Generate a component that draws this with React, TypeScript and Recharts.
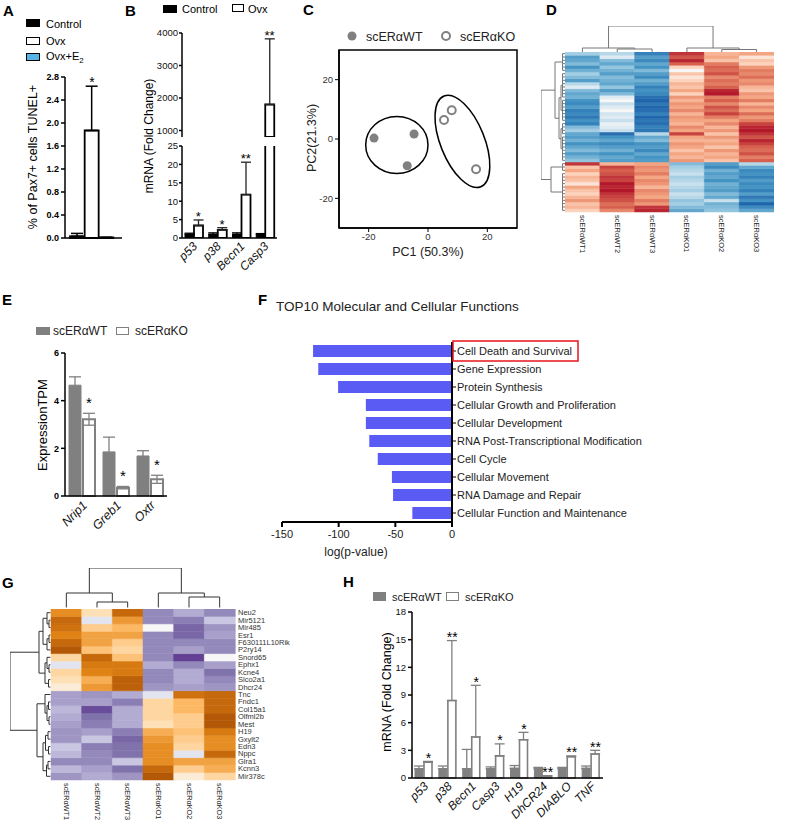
import React from "react";
import {
  BarChart,
  Bar,
  ComposedChart,
  Line,
  ScatterChart,
  Scatter,
  XAxis,
  YAxis,
  ErrorBar,
  Cell,
  ReferenceArea,
} from "recharts";

const FONT = "'Liberation Sans', Arial, Helvetica, sans-serif";
const GRAY = "#808080";
const AXIS = { stroke: "#000", strokeWidth: 1.5 };

// ---------- A: TUNEL+
const A_GROUPS = ["Control", "Ovx", "Ovx+E2"];
const A_VALUES = [0.03, 1.87, 0.01];
const A_ERRORS = [0.05, 0.77, 0.0];
const A_STARS = ["", "*", ""];
const A_FILLS = ["#000000", "#ffffff", "#55b4e6"];
const A_TICKS = [0, 0.4, 0.8, 1.2, 1.6, 2.0, 2.4, 2.8];

// ---------- B: mRNA, broken axis
const B_GENES = ["p53", "p38", "Becn1", "Casp3"];
const B_CONTROL = [1, 1, 1, 1];
const B_CONTROL_ERR = [0.3, 0.4, 0.4, 0.2];
const B_OVX = [3.4, 2.2, 11.8, 1800];
const B_OVX_ERR = [1.5, 0.6, 8.8, 2020];
const B_STARS = ["*", "*", "**", "**"];
const B_UPPER_TICKS = [1000, 2000, 3000, 4000];
const B_LOWER_TICKS = [0, 5, 10, 15, 20, 25];
const B_LOWER_MAX = 25;
const B_UPPER_MIN = 800;

// ---------- C: PCA
const C_WT_PC1 = [-18.2, -4.7, -7.0];
const C_WT_PC2 = [0.3, 1.7, -9.0];
const C_KO_PC1 = [5.4, 8.0, 16.2];
const C_KO_PC2 = [6.4, 9.7, -10.2];
const C_ELLIPSE_CX = [-10.5, 11.6];
const C_ELLIPSE_CY = [-2.0, -0.8];
const C_ELLIPSE_RX = [10.5, 16.5];
const C_ELLIPSE_RY = [9.6, 7.4];
const C_ELLIPSE_ANGLE = [0, 68];
const C_TICKS = [-20, 0, 20];

// ---------- D: heatmap (z-scores per column, top row first)
const D_SAMPLES = ["scERαWT1", "scERαWT2", "scERαWT3", "scERαKO1", "scERαKO2", "scERαKO3"];
const D_WT1 = [-0.4, -0.9, -0.8, -0.6, -1.0, -0.7, -0.4, -0.6, -0.9, -0.3, -0.1, -0.6, -0.8, -0.7, -1.0, -1.1, -0.9, -1.2, -1.1, -1.3, -1.0, -1.2, -0.6, -0.4, -0.8, -0.9, -0.7, -1.0, -0.8, -0.6, -0.9, -0.7, -0.5,
  1.3, 0.3, 0.5, 0.2, 0.4, 0.3, 0.1, 0.5, 0.3, 0.2, 0.4, 0.6, 0.3, 0.4, 0.2];
const D_WT2 = [-0.3, -0.1, -0.6, -0.8, -0.5, -0.7, -0.9, -0.6, -0.7, -0.8, -0.5, -0.9, -0.6, -0.1, 0.0, -0.2, -0.1, 0.0, -0.15, -0.1, -0.2, -0.05, -0.1, -0.2, -1.4, -1.0, -0.8, -1.1, -0.9, -0.7, -1.0, -0.8, -0.9,
  0.4, 1.2, 1.0, 1.1, 1.3, 1.2, 1.5, 1.4, 1.5, 1.3, 1.2, 1.1, 0.9, 1.0, 0.7];
const D_WT3 = [-1.2, -0.9, -1.1, -0.8, -1.0, -0.6, -0.9, -1.1, -0.7, -0.9, -1.2, -1.0, -1.1, -1.4, -1.5, -1.3, -1.5, -1.4, -1.2, -1.5, -1.3, -1.4, -1.2, -1.3, -0.3, -0.8, -0.6, -1.0, -0.9, -1.1, -0.8, -1.0, -0.9,
  0.5, 0.7, 0.6, 0.8, 0.5, 0.7, 0.6, 0.4, 0.7, 0.6, 0.5, 0.8, 0.6, 1.3, 1.4];
const D_KO1 = [1.3, 1.1, 1.4, 1.0, 0.2, 0.0, 0.3, 0.1, 0.2, 0.4, 0.3, 0.5, 0.2, 0.6, 0.4, 0.6, 0.5, 0.7, 0.4, 0.6, 0.5, 0.4, 0.7, 0.5, 1.2, 0.5, 0.4, 0.6, 0.5, 0.3, 0.5, 0.4, 0.6,
  -0.6, -0.4, -0.3, -0.2, -0.4, -0.3, -0.2, -0.3, -0.4, -0.2, -0.3, -0.5, -0.4, -0.6, -0.8];
const D_KO2 = [0.4, 0.5, 0.3, 0.8, 1.0, 0.9, 1.1, 0.7, 0.9, 0.8, 1.0, 1.4, 1.5, 0.8, 1.0, 0.7, 1.1, 0.9, 1.2, 0.8, 0.5, 0.7, 0.4, 0.6, 0.3, 0.6, 0.4, 0.5, 0.3, 0.6, 0.4, 0.5, 0.3,
  -0.9, -1.1, -0.7, -0.9, -0.8, -1.0, -0.7, -0.8, -0.9, -0.6, -0.8, -0.2, -0.7, -0.6, -0.5];
const D_KO3 = [0.5, 0.1, 0.3, 0.2, 0.6, 0.8, 0.7, 0.9, 0.6, 0.7, 0.4, 0.3, 0.6, 0.5, 0.8, 0.4, 0.7, 0.5, 0.9, 0.6, 0.8, 1.2, 1.4, 1.5, 1.3, 1.1, 1.4, 1.2, 1.0, 0.9, 1.1, 0.8, 1.0,
  -0.3, -0.8, -1.1, -1.0, -1.2, -0.9, -1.1, -1.0, -1.2, -0.9, -1.3, -1.0, -1.5, -1.1, -0.8];
const D_MATRIX = [D_WT1, D_WT2, D_WT3, D_KO1, D_KO2, D_KO3];
const D_COL_TREE = [[0, [1, 2, 3], 4], [3, [4, 5, 2.5], 4], 26];
const D_ROW_TREE = [
  [
    { from: 0, to: 5, h: 2.5 },
    [
      [{ from: 6, to: 13, h: 2.5 }, { from: 14, to: 20, h: 2.5 }, 4],
      [{ from: 21, to: 24, h: 2.5 }, { from: 25, to: 32, h: 2.5 }, 4],
      6,
    ],
    10,
  ],
  [{ from: 33, to: 35, h: 2.5 }, { from: 36, to: 47, h: 2.5 }, 14],
  24,
];
const D_SCALE_TICKS = [1.5, 1, 0.5, 0, -0.5, -1, -1.5];
const RDBU = [
  [-1.5, "#2166ac"], [-1.0, "#4393c3"], [-0.5, "#92c5de"], [-0.15, "#d1e5f0"], [0, "#f7f7f7"],
  [0.15, "#fddbc7"], [0.5, "#f4a582"], [1.0, "#d6604d"], [1.5, "#b2182b"],
];

// ---------- E: expression TPM
const E_GENES = ["Nrip1", "Greb1", "Oxtr"];
const E_WT = [4.65, 1.85, 1.68];
const E_WT_ERR = [0.35, 0.62, 0.22];
const E_KO = [3.22, 0.35, 0.7];
const E_KO_ERR = [0.25, 0.05, 0.17];
const E_STARS = ["*", "*", "*"];
const E_TICKS = [0, 2, 4, 6];

// ---------- F: top 10 functions
const F_FUNCTIONS = [
  "Cell Death and Survival",
  "Gene Expression",
  "Protein Synthesis",
  "Cellular Growth and Proliferation",
  "Cellular Development",
  "RNA Post-Transcriptional Modification",
  "Cell Cycle",
  "Cellular Movement",
  "RNA Damage and Repair",
  "Cellular Function and Maintenance",
];
const F_LOGP = [-122.6, -118, -100.5, -76, -76, -73, -65.5, -53, -52, -35];
const F_TICKS = [-150, -100, -50, 0];
const F_HIGHLIGHT = "Cell Death and Survival";

// ---------- G: heatmap of selected genes
const G_GENES = ["Neu2", "Mir5121", "Mir485", "Esr1", "F630111L10Rik", "P2ry14", "Snord65", "Ephx1", "Kcne4", "Slco2a1", "Dhcr24",
  "Tnc", "Fndc1", "Col15a1", "Olfml2b", "Mest", "H19", "Gxylt2", "Edn3", "Nppc", "Glra1", "Kcnn3", "Mir378c"];
const G_WT1 = [1.0, 1.4, 1.3, 1.1, 1.4, 1.6, 0.3, -0.1, 0.3, 0.2, 0.1, -0.6, -0.6, -0.4, -0.5, -0.6, -0.7, -0.7, -0.3, -0.4, -0.8, -0.4, -0.7];
const G_WT2 = [0.2, -0.1, 0.4, 0.8, 0.8, 0.5, 1.4, 1.2, 1.1, 0.7, 0.9, -0.7, -0.6, -1.3, -1.0, -0.9, -0.6, -0.3, -0.9, -0.8, -0.8, -0.6, -0.5];
const G_WT3 = [1.4, 0.9, 0.6, 0.8, 0.4, 0.3, 0.5, 1.2, 1.2, 1.5, 1.5, -0.5, -0.9, -0.5, -0.5, -0.5, -0.9, -1.1, -1.0, -1.0, -0.3, -1.0, -0.7];
const G_KO1 = [-0.8, -0.8, 0.0, -0.8, -0.8, -0.8, -0.8, -0.5, -0.8, -0.8, -0.7, -0.1, 0.3, 0.3, 0.3, 0.2, 0.7, 0.9, 1.0, 1.0, 1.0, 1.4, 1.7];
const G_KO2 = [-0.5, -0.9, -1.1, -1.1, -0.8, -0.6, -1.4, -0.8, -0.5, -0.5, -0.6, 1.3, 0.6, 0.6, 0.4, 0.4, 0.5, 0.4, 0.3, -0.1, 0.8, 0.4, 0.1];
const G_KO3 = [-0.8, -0.3, -0.7, -0.6, -0.8, -0.8, 0.0, -0.6, -1.0, -0.8, -0.7, 1.4, 1.4, 1.4, 1.6, 1.6, 1.2, 1.0, 1.0, 1.4, 0.8, 0.7, 0.3];
const G_MATRIX = [G_WT1, G_WT2, G_WT3, G_KO1, G_KO2, G_KO3];
const G_COL_TREE = [[0, [1, 2, 7], 16], [3, [4, 5, 12], 16], 41];
const G_ROW_TREE = [
  [
    [[0, [1, 2, 2], 4], [[3, 4, 2], 5, 4], 8],
    [[6, [7, 8, 2], 4], [9, 10, 2.5], 6],
    12,
  ],
  [
    [11, [[12, 13, 2.5], [14, 15, 2], 4], 6],
    [[[16, 17, 3], [18, 19, 2.5], 5.5], [[20, 21, 3], 22, 4.5], 8],
    14,
  ],
  41,
];
const G_SCALE_TICKS = [1.5, 1, 0.5, 0, -0.5, -1, -1.5];
const PUOR = [
  [-1.6, "#542788"], [-1.0, "#8073ac"], [-0.5, "#b2abd2"], [-0.15, "#d8daeb"], [0, "#f7f7f7"],
  [0.2, "#fee0b6"], [0.6, "#fdb863"], [1.1, "#e08214"], [1.6, "#b35806"],
];

// ---------- H: mRNA fold change
const H_GENES = ["p53", "p38", "Becn1", "Casp3", "H19", "DhCR24", "DIABLO", "TNF"];
const H_WT = [1, 1, 1, 1, 1.05, 1, 1, 1.05];
const H_WT_ERR = [0.3, 0.3, 2.1, 0.2, 0.3, 0.15, 0.15, 0.25];
const H_KO = [1.7, 8.4, 4.45, 2.4, 4.15, 0.2, 2.3, 2.6];
const H_KO_ERR = [0.1, 6.5, 5.6, 1.3, 0.8, 0.05, 0.1, 0.4];
const H_STARS = ["*", "**", "*", "*", "*", "**", "**", "**"];
const H_TICKS = [0, 3, 6, 9, 12, 15, 18];

// ---------- helpers
function hex(c: string) {
  return [1, 3, 5].map((i) => parseInt(c.slice(i, i + 2), 16));
}
function colorAt(stops: any[], v: number) {
  if (v <= stops[0][0]) return stops[0][1];
  for (let i = 1; i < stops.length; i++) {
    const [v1, c1] = stops[i];
    if (v <= v1) {
      const [v0, c0] = stops[i - 1];
      const t = (v - v0) / (v1 - v0);
      const a = hex(c0);
      const b = hex(c1);
      const m = a.map((x, k) => Math.round(x + (b[k] - x) * t));
      return `rgb(${m[0]},${m[1]},${m[2]})`;
    }
  }
  return stops[stops.length - 1][1];
}

// dendrogram tree -> segments [pos1, h1, pos2, h2]
function layoutTree(t: any, leafH: number, segs: number[][]): number[] {
  if (typeof t === "number") return [t + 0.5, leafH];
  if (!Array.isArray(t)) {
    for (let i = t.from; i <= t.to; i++) segs.push([i + 0.5, leafH, i + 0.5, t.h]);
    segs.push([t.from + 0.5, t.h, t.to + 0.5, t.h]);
    return [(t.from + t.to + 1) / 2, t.h];
  }
  const [a, b, h] = t;
  const [pa, ha] = layoutTree(a, leafH, segs);
  const [pb, hb] = layoutTree(b, leafH, segs);
  segs.push([pa, ha, pa, h], [pb, hb, pb, h], [pa, h, pb, h]);
  return [(pa + pb) / 2, h];
}

function Txt({ x, y, size, children, bold, italic, anchor = "start", color = "#000" }: any) {
  const tx = anchor === "middle" ? "-50%" : anchor === "end" ? "-100%" : "0";
  return (
    <div
      style={{
        position: "absolute",
        left: x,
        top: y,
        fontSize: size,
        fontWeight: bold ? 700 : 400,
        fontStyle: italic ? "italic" : "normal",
        transform: `translate(${tx}, -50%)`,
        whiteSpace: "nowrap",
        lineHeight: 1,
        color,
      }}
    >
      {children}
    </div>
  );
}

function VTxt({ x, y, size, children, color = "#000" }: any) {
  return (
    <div
      style={{
        position: "absolute",
        left: x,
        top: y,
        fontSize: size,
        transform: "translate(-50%, -50%) rotate(-90deg)",
        whiteSpace: "nowrap",
        lineHeight: 1,
        color,
      }}
    >
      {children}
    </div>
  );
}

function Swatch({ x, y, w, h, fill, stroke }: any) {
  return (
    <div
      style={{
        position: "absolute",
        left: x,
        top: y,
        width: w,
        height: h,
        background: fill,
        border: `1.5px solid ${stroke}`,
        boxSizing: "border-box",
      }}
    />
  );
}

function Place({ x, y, children }: any) {
  return <div style={{ position: "absolute", left: x, top: y }}>{children}</div>;
}

const starLabel = (stars: string[], dx: number, dy: number, size: number) => (p: any) => {
  const s = stars[p.index];
  if (!s || p.value == null || p.y == null || Number.isNaN(p.y)) return null;
  return (
    <text key={`st${p.index}`} x={p.x + dx} y={p.y + dy} textAnchor="middle" fontSize={size} style={{ fill: "#000" }}>
      {s}
    </text>
  );
};

function SlantTick(p: any) {
  const { x, y, payload, size, dx = 4, dy = 9 } = p;
  const ax = x + dx;
  const ay = y + dy;
  return (
    <text x={ax} y={ay} transform={`rotate(-45, ${ax}, ${ay})`} textAnchor="end" fontSize={size} fontStyle="italic" fill="#111">
      {payload.value}
    </text>
  );
}

function VertTick(p: any) {
  const { x, y, payload, size } = p;
  return (
    <text x={x} y={y + 3} transform={`rotate(90, ${x}, ${y + 3})`} fontSize={size} fill="#222" dominantBaseline="central">
      {payload.value}
    </text>
  );
}

function RowTick(p: any) {
  const { x, y, payload, labels, n } = p;
  const idx = Math.round(n - 0.5 - payload.value);
  return (
    <text x={x} y={y} fontSize={7.5} fill="#333" dominantBaseline="central">
      {labels[idx]}
    </text>
  );
}

function FTick(p: any) {
  const { x, y, payload } = p;
  const hi = payload.value === F_HIGHLIGHT;
  return (
    <g>
      <text x={x - 1} y={y} fontSize={11} fill="#222" dominantBaseline="central">
        {payload.value}
      </text>
      {hi && <rect x={x - 5} y={y - 10} width={125} height={20} fill="none" stroke="#e8141b" strokeWidth={1.5} />}
    </g>
  );
}

function Heatmap({ columns, matrix, stops, width, height, margin, xHeight, labelSize, rowLabels, yWidth }: any) {
  const nRows = matrix[0].length;
  const data = columns.map((name: string) => {
    const d: any = { name };
    for (let r = 0; r < nRows; r++) d[`r${r}`] = 1;
    return d;
  });
  const order = matrix[0].map((_: number, k: number) => nRows - 1 - k);
  return (
    <BarChart width={width} height={height} data={data} margin={margin} barCategoryGap={0} barGap={0}>
      <XAxis
        dataKey="name"
        height={xHeight}
        tickLine={false}
        axisLine={false}
        tickSize={0}
        tickMargin={0}
        interval={0}
        tick={(p: any) => <VertTick {...p} size={labelSize} />}
      />
      {rowLabels ? (
        <YAxis
          type="number"
          orientation="right"
          domain={[0, nRows]}
          width={yWidth}
          ticks={rowLabels.map((_: string, i: number) => nRows - i - 0.5)}
          interval={0}
          axisLine={false}
          tickLine={false}
          tickSize={0}
          tickMargin={3}
          tick={(p: any) => <RowTick {...p} labels={rowLabels} n={nRows} />}
        />
      ) : (
        <YAxis type="number" domain={[0, nRows]} hide />
      )}
      {order.map((r: number) => (
        <Bar key={r} dataKey={`r${r}`} stackId="h" isAnimationActive={false}>
          {columns.map((c: string, ci: number) => {
            const f = colorAt(stops, matrix[ci][r]);
            return <Cell key={c} fill={f} stroke={f} strokeWidth={0.5} />;
          })}
        </Bar>
      ))}
    </BarChart>
  );
}

const noDot = () => <g />;

function Dendrogram({ tree, leaves, maxH, orient, width, height, margin, color, leafH }: any) {
  const segs: number[][] = [];
  layoutTree(tree, leafH, segs);
  const top = orient === "top";
  return (
    <ScatterChart width={width} height={height} margin={margin}>
      <XAxis type="number" dataKey="x" hide domain={top ? [0, leaves] : [0, maxH]} reversed={!top} allowDataOverflow />
      <YAxis type="number" dataKey="y" hide domain={top ? [0, maxH] : [0, leaves]} reversed={!top} allowDataOverflow />
      {segs.map((s, i) => (
        <Scatter
          key={i}
          data={top ? [{ x: s[0], y: s[1] }, { x: s[2], y: s[3] }] : [{ x: s[1], y: s[0] }, { x: s[3], y: s[2] }]}
          line={{ stroke: color, strokeWidth: 1 }}
          shape={noDot}
          isAnimationActive={false}
        />
      ))}
    </ScatterChart>
  );
}

function ColorBar({ id, stops, domain, ticks, width, height, barW, fontSize, tickLine }: any) {
  const [lo, hi] = domain;
  return (
    <ComposedChart width={width} height={height} margin={{ top: 0, right: 0, bottom: 0, left: 0 }}>
      <defs>
        <linearGradient id={id} x1="0" y1="1" x2="0" y2="0">
          {stops.map(([v, c]: any) => (
            <stop key={v} offset={(v - lo) / (hi - lo)} stopColor={c} />
          ))}
        </linearGradient>
      </defs>
      <XAxis type="number" dataKey="x" domain={[0, 1]} hide />
      <YAxis
        type="number"
        orientation="right"
        domain={domain}
        ticks={ticks}
        interval={0}
        width={width - barW}
        axisLine={false}
        tickLine={tickLine ? { stroke: "#999", strokeWidth: 0.5 } : false}
        tickSize={tickLine ? 2 : 0}
        tickMargin={tickLine ? 1 : 5}
        tick={{ fontSize, fill: "#333" }}
      />
      <ReferenceArea x1={0} x2={1} y1={lo} y2={hi} fill={`url(#${id})`} fillOpacity={1} stroke="none" ifOverflow="visible" />
    </ComposedChart>
  );
}

// ---------- panels
function PanelA() {
  const data = A_GROUPS.map((name, i) => ({
    name,
    value: A_VALUES[i],
    err: [0, A_ERRORS[i]],
    starAt: A_VALUES[i] + A_ERRORS[i],
  }));
  return (
    <>
      <Txt x={3} y={10} size={15} bold>A</Txt>
      <Swatch x={26} y={19} w={14} h={8} fill={A_FILLS[0]} stroke="#000" />
      <Txt x={46} y={24} size={11}>Control</Txt>
      <Swatch x={26} y={37} w={14} h={8} fill={A_FILLS[1]} stroke="#000" />
      <Txt x={46} y={41} size={11}>Ovx</Txt>
      <Swatch x={26} y={53} w={14} h={8} fill={A_FILLS[2]} stroke="#000" />
      <Txt x={46} y={58} size={11}>
        Ovx+E<sub style={{ fontSize: 8 }}>2</sub>
      </Txt>
      <VTxt x={33} y={157} size={12.5}>% of Pax7+ cells TUNEL+</VTxt>
      <Place x={0} y={0}>
        <ComposedChart width={130} height={260} data={data} margin={{ top: 77, right: 8, left: 0, bottom: 0 }}>
          <XAxis dataKey="name" tick={false} tickLine={false} height={22} axisLine={AXIS} padding={{ left: 5, right: 8 }} />
          <YAxis
            width={65}
            domain={[0, 2.8]}
            ticks={A_TICKS}
            interval={0}
            tickFormatter={(v: number) => v.toFixed(1)}
            tick={{ fontSize: 9, fontWeight: 700, fill: "#000" }}
            tickSize={4}
            axisLine={AXIS}
            tickLine={AXIS}
          />
          <Bar dataKey="value" barSize={14} stroke="#000" strokeWidth={1.8} isAnimationActive={false}>
            {A_GROUPS.map((g, i) => (
              <Cell key={g} fill={A_FILLS[i]} />
            ))}
            <ErrorBar dataKey="err" width={6} stroke="#000" strokeWidth={1.5} direction="y" />
          </Bar>
          <Line dataKey="starAt" stroke="none" dot={false} activeDot={false} isAnimationActive={false} label={starLabel(A_STARS, 0, 1, 14)} />
        </ComposedChart>
      </Place>
    </>
  );
}

function PanelB() {
  const lower = B_GENES.map((name, i) => ({
    name,
    ctrl: B_CONTROL[i],
    ctrlErr: [0, B_CONTROL_ERR[i]],
    ovx: B_OVX[i],
    ovxErr: [0, B_OVX_ERR[i]],
    starAt: B_OVX[i] + B_OVX_ERR[i] < B_LOWER_MAX ? B_OVX[i] + B_OVX_ERR[i] : null,
  }));
  const upper = B_GENES.map((name, i) => ({
    name,
    ctrl: null,
    ovx: B_OVX[i] > B_UPPER_MIN ? B_OVX[i] : null,
    ovxErr: [0, B_OVX_ERR[i]],
    starAt: B_OVX[i] > B_UPPER_MIN ? B_OVX[i] + B_OVX_ERR[i] : null,
  }));
  const yCommon = {
    width: 62,
    interval: 0 as const,
    allowDataOverflow: true,
    tick: { fontSize: 9.5, fill: "#111" },
    tickSize: 3,
    tickMargin: 1,
    axisLine: AXIS,
    tickLine: AXIS,
  };
  return (
    <>
      <Txt x={125} y={10} size={15} bold>B</Txt>
      <Swatch x={163} y={5} w={14} h={8} fill="#000" stroke="#000" />
      <Txt x={182} y={9} size={11}>Control</Txt>
      <Swatch x={232} y={4} w={12} h={8} fill="#fff" stroke="#000" />
      <Txt x={248} y={9} size={11}>Ovx</Txt>
      <VTxt x={149} y={136} size={12}>mRNA (Fold Change)</VTxt>
      <Place x={120} y={0}>
        <ComposedChart width={165} height={137} data={upper} margin={{ top: 33, right: 8, left: 0, bottom: 0 }} barGap={0}>
          <XAxis dataKey="name" hide />
          <YAxis domain={[B_UPPER_MIN, 4000]} ticks={B_UPPER_TICKS} {...yCommon} />
          <Bar dataKey="ctrl" barSize={9} fill="#000" isAnimationActive={false} />
          <Bar dataKey="ovx" barSize={9} fill="#fff" stroke="#000" strokeWidth={1.8} isAnimationActive={false}>
            <ErrorBar dataKey="ovxErr" width={5} stroke="#222" strokeWidth={1.3} direction="y" />
          </Bar>
          <Line dataKey="starAt" stroke="none" dot={false} activeDot={false} isAnimationActive={false} label={starLabel(B_STARS, 4.5, 1, 13)} />
        </ComposedChart>
      </Place>
      <Place x={120} y={140}>
        <ComposedChart width={165} height={150} data={lower} margin={{ top: 6, right: 8, left: 0, bottom: 0 }} barGap={0}>
          <XAxis
            dataKey="name"
            height={52}
            tickLine={false}
            tickSize={0}
            tickMargin={0}
            interval={0}
            axisLine={AXIS}
            tick={(p: any) => <SlantTick {...p} size={12} />}
          />
          <YAxis domain={[0, B_LOWER_MAX]} ticks={B_LOWER_TICKS} {...yCommon} />
          <Bar dataKey="ctrl" barSize={9} fill="#000" stroke="#000" isAnimationActive={false}>
            <ErrorBar dataKey="ctrlErr" width={5} stroke="#000" strokeWidth={1.3} direction="y" />
          </Bar>
          <Bar dataKey="ovx" barSize={9} fill="#fff" stroke="#000" strokeWidth={1.8} isAnimationActive={false}>
            <ErrorBar dataKey="ovxErr" width={5} stroke="#222" strokeWidth={1.3} direction="y" />
          </Bar>
          <Line dataKey="starAt" stroke="none" dot={false} activeDot={false} isAnimationActive={false} label={starLabel(B_STARS, 4.5, 1, 13)} />
        </ComposedChart>
      </Place>
    </>
  );
}

function PanelC() {
  const PX = 178 / 60;
  const wt = C_WT_PC1.map((x, i) => ({ x, y: C_WT_PC2[i] }));
  const ko = C_KO_PC1.map((x, i) => ({ x, y: C_KO_PC2[i] }));
  const ell = C_ELLIPSE_CX.map((x, i) => ({ x, y: C_ELLIPSE_CY[i], rx: C_ELLIPSE_RX[i], ry: C_ELLIPSE_RY[i], a: C_ELLIPSE_ANGLE[i] }));
  const axisTick = { fontSize: 9.5, fill: "#333" };
  return (
    <>
      <Txt x={303} y={9} size={15} bold>C</Txt>
      <svg style={{ position: "absolute", left: 345, top: 29 }} width={110} height={14}>
        <circle cx={7} cy={7} r={4.5} fill={GRAY} />
        <circle cx={101} cy={7} r={4} fill="#fff" stroke={GRAY} strokeWidth={2} />
      </svg>
      <Txt x={366} y={37} size={12.5} color="#222">scERαWT</Txt>
      <Txt x={460} y={37} size={12.5} color="#222">scERαKO</Txt>
      <VTxt x={312} y={138} size={12.5} color="#222">PC2(21.3%)</VTxt>
      <Txt x={428} y={252} size={12.5} anchor="middle" color="#222">PC1 (50.3%)</Txt>
      <Place x={300} y={0}>
        <ScatterChart width={225} height={270} margin={{ top: 50, right: 8, left: 0, bottom: 0 }}>
          <XAxis type="number" dataKey="x" domain={[-30, 30]} ticks={C_TICKS} interval={0} height={42} tickSize={4} tickMargin={1} axisLine={AXIS} tickLine={{ stroke: "#000" }} tick={axisTick} />
          <YAxis type="number" dataKey="y" domain={[-30, 30]} ticks={C_TICKS} interval={0} width={39} tickSize={4} axisLine={AXIS} tickLine={{ stroke: "#000" }} tick={axisTick} />
          <ReferenceArea x1={-30} x2={30} y1={-30} y2={30} fill="none" stroke="#000" strokeWidth={1.5} ifOverflow="visible" />
          <Scatter
            data={ell}
            isAnimationActive={false}
            shape={(p: any) => (
              <ellipse
                cx={p.cx}
                cy={p.cy}
                rx={p.payload.rx * PX}
                ry={p.payload.ry * PX}
                transform={`rotate(${p.payload.a} ${p.cx} ${p.cy})`}
                fill="none"
                stroke="#000"
                strokeWidth={1.5}
              />
            )}
          />
          <Scatter data={wt} isAnimationActive={false} shape={(p: any) => <circle cx={p.cx} cy={p.cy} r={4.5} fill={GRAY} />} />
          <Scatter data={ko} isAnimationActive={false} shape={(p: any) => <circle cx={p.cx} cy={p.cy} r={4} fill="#fff" stroke={GRAY} strokeWidth={2} />} />
        </ScatterChart>
      </Place>
    </>
  );
}

function PanelD() {
  return (
    <>
      <Txt x={546} y={9} size={15} bold>D</Txt>
      <Place x={565} y={24}>
        <Dendrogram tree={D_COL_TREE} leaves={6} maxH={26} orient="top" width={209} height={28} margin={{ top: 2, right: 0, left: 0, bottom: 0 }} color="#777" leafH={0} />
      </Place>
      <Place x={538} y={52}>
        <Dendrogram tree={D_ROW_TREE} leaves={48} maxH={24} orient="left" width={27} height={160} margin={{ top: 0, right: 0, left: 3, bottom: 0 }} color="#777" leafH={0} />
      </Place>
      <Place x={565} y={52}>
        <Heatmap columns={D_SAMPLES} matrix={D_MATRIX} stops={RDBU} width={209} height={205} margin={{ top: 0, right: 0, left: 0, bottom: 0 }} xHeight={45} labelSize={7.5} />
      </Place>
      <Place x={782} y={52}>
        <ColorBar id="rdbu" stops={RDBU} domain={[-1.7, 1.75]} ticks={D_SCALE_TICKS} width={18} height={70} barW={5} fontSize={6} tickLine />
      </Place>
    </>
  );
}

function PanelE() {
  const data = E_GENES.map((name, i) => ({
    name,
    wt: E_WT[i],
    wtErr: E_WT_ERR[i],
    ko: E_KO[i],
    koErr: E_KO_ERR[i],
    starAt: E_KO[i] + E_KO_ERR[i],
  }));
  return (
    <>
      <Txt x={2} y={299} size={15} bold>E</Txt>
      <Swatch x={36} y={327} w={14} h={8} fill={GRAY} stroke={GRAY} />
      <Txt x={53} y={331} size={12} color="#222">scERαWT</Txt>
      <Swatch x={116} y={327} w={13} h={8} fill="#fff" stroke={GRAY} />
      <Txt x={135} y={331} size={12} color="#222">scERαKO</Txt>
      <VTxt x={42} y={425} size={13}>ExpressionTPM</VTxt>
      <Place x={0} y={300}>
        <ComposedChart width={175} height={260} data={data} margin={{ top: 53, right: 8, left: 0, bottom: 0 }} barGap={2}>
          <XAxis
            dataKey="name"
            height={64}
            tickLine={false}
            tickSize={0}
            tickMargin={0}
            interval={0}
            axisLine={AXIS}
            tick={(p: any) => <SlantTick {...p} size={12.5} dx={6} dy={10} />}
          />
          <YAxis
            width={65}
            domain={[0, 6]}
            ticks={E_TICKS}
            interval={0}
            tick={{ fontSize: 9, fontWeight: 700, fill: "#000" }}
            tickSize={4}
            axisLine={AXIS}
            tickLine={AXIS}
          />
          <Bar dataKey="wt" barSize={12} fill={GRAY} stroke={GRAY} isAnimationActive={false}>
            <ErrorBar dataKey="wtErr" width={6} stroke={GRAY} strokeWidth={1.3} direction="y" />
          </Bar>
          <Bar dataKey="ko" barSize={12} fill="#fff" stroke={GRAY} strokeWidth={2} isAnimationActive={false}>
            <ErrorBar dataKey="koErr" width={6} stroke={GRAY} strokeWidth={1.3} direction="y" />
          </Bar>
          <Line dataKey="starAt" stroke="none" dot={false} activeDot={false} isAnimationActive={false} label={starLabel(E_STARS, 7, -5, 15)} />
        </ComposedChart>
      </Place>
    </>
  );
}

function PanelF() {
  const data = F_FUNCTIONS.map((name, i) => ({ name, v: F_LOGP[i] }));
  return (
    <>
      <Txt x={258} y={299} size={15} bold>F</Txt>
      <Txt x={276} y={307} size={13.5} color="#222">TOP10 Molecular and Cellular Functions</Txt>
      <Txt x={356} y={552} size={12} anchor="middle" color="#222">log(p-value)</Txt>
      <Place x={240} y={295}>
        <BarChart layout="vertical" width={420} height={270} data={data} margin={{ top: 47, right: 8, left: 42, bottom: 0 }} barCategoryGap={3}>
          <XAxis
            type="number"
            domain={[-150, 0]}
            ticks={F_TICKS}
            interval={0}
            height={43}
            tickSize={5}
            tickMargin={3}
            axisLine={{ stroke: "#000", strokeWidth: 2 }}
            tickLine={{ stroke: "#000", strokeWidth: 2 }}
            tick={{ fontSize: 11, fill: "#222" }}
          />
          <YAxis
            type="category"
            dataKey="name"
            orientation="right"
            width={200}
            interval={0}
            tickSize={4}
            axisLine={{ stroke: "#000", strokeWidth: 2 }}
            tickLine={{ stroke: "#000", strokeWidth: 1 }}
            tick={(p: any) => <FTick {...p} />}
          />
          <Bar dataKey="v" fill="#5a5af5" isAnimationActive={false} />
        </BarChart>
      </Place>
    </>
  );
}

function PanelG() {
  return (
    <>
      <Txt x={2} y={582} size={15} bold>G</Txt>
      <Place x={51} y={566}>
        <Dendrogram tree={G_COL_TREE} leaves={6} maxH={41} orient="top" width={184} height={43} margin={{ top: 2, right: 0, left: 0, bottom: 0 }} color="#333" leafH={1.5} />
      </Place>
      <Place x={8} y={609}>
        <Dendrogram tree={G_ROW_TREE} leaves={23} maxH={41} orient="left" width={43} height={171} margin={{ top: 0, right: 0, left: 2, bottom: 0 }} color="#333" leafH={0.5} />
      </Place>
      <Place x={0} y={609}>
        <Heatmap
          columns={D_SAMPLES}
          matrix={G_MATRIX}
          stops={PUOR}
          width={300}
          height={219}
          margin={{ top: 0, right: 6, left: 51, bottom: 0 }}
          xHeight={48}
          labelSize={7.3}
          rowLabels={G_GENES}
          yWidth={59}
        />
      </Place>
      <Place x={293} y={610}>
        <ColorBar id="puor" stops={PUOR} domain={[-1.78, 1.78]} ticks={G_SCALE_TICKS} width={34} height={115} barW={10} fontSize={8} />
      </Place>
    </>
  );
}

function PanelH() {
  const data = H_GENES.map((name, i) => ({
    name,
    wt: H_WT[i],
    wtErr: [0, H_WT_ERR[i]],
    ko: H_KO[i],
    koErr: [0, H_KO_ERR[i]],
    starAt: H_KO[i] + H_KO_ERR[i],
  }));
  return (
    <>
      <Txt x={343} y={581} size={15} bold>H</Txt>
      <Swatch x={373} y={592} w={13} h={9} fill={GRAY} stroke={GRAY} />
      <Txt x={392} y={597} size={11} color="#222">scERαWT</Txt>
      <Swatch x={446} y={592} w={13} h={9} fill="#fff" stroke={GRAY} />
      <Txt x={465} y={597} size={11} color="#222">scERαKO</Txt>
      <VTxt x={387} y={692} size={12.5}>mRNA (Fold Change)</VTxt>
      <Place x={350} y={600}>
        <ComposedChart width={260} height={228} data={data} margin={{ top: 12, right: 7, left: 0, bottom: 0 }} barGap={1}>
          <XAxis
            dataKey="name"
            height={50}
            tickLine={false}
            tickSize={0}
            tickMargin={0}
            interval={0}
            axisLine={AXIS}
            tick={(p: any) => <SlantTick {...p} size={12} dx={5} dy={9} />}
          />
          <YAxis
            width={62}
            domain={[0, 18]}
            ticks={H_TICKS}
            interval={0}
            tick={{ fontSize: 9.5, fill: "#111" }}
            tickSize={4}
            axisLine={AXIS}
            tickLine={AXIS}
          />
          <Bar dataKey="wt" barSize={8} fill={GRAY} stroke={GRAY} isAnimationActive={false}>
            <ErrorBar dataKey="wtErr" width={5} stroke={GRAY} strokeWidth={1.3} direction="y" />
          </Bar>
          <Bar dataKey="ko" barSize={8} fill="#fff" stroke={GRAY} strokeWidth={1.6} isAnimationActive={false}>
            <ErrorBar dataKey="koErr" width={5} stroke={GRAY} strokeWidth={1.3} direction="y" />
          </Bar>
          <Line dataKey="starAt" stroke="none" dot={false} activeDot={false} isAnimationActive={false} label={starLabel(H_STARS, 4.5, 1.5, 14)} />
        </ComposedChart>
      </Place>
    </>
  );
}

export default function App() {
  return (
    <div style={{ position: "relative", width: 800, height: 828, background: "#fff", fontFamily: FONT, overflow: "hidden" }}>
      <style>{"body{margin:0}"}</style>
      <PanelA />
      <PanelB />
      <PanelC />
      <PanelD />
      <PanelE />
      <PanelF />
      <PanelG />
      <PanelH />
    </div>
  );
}
